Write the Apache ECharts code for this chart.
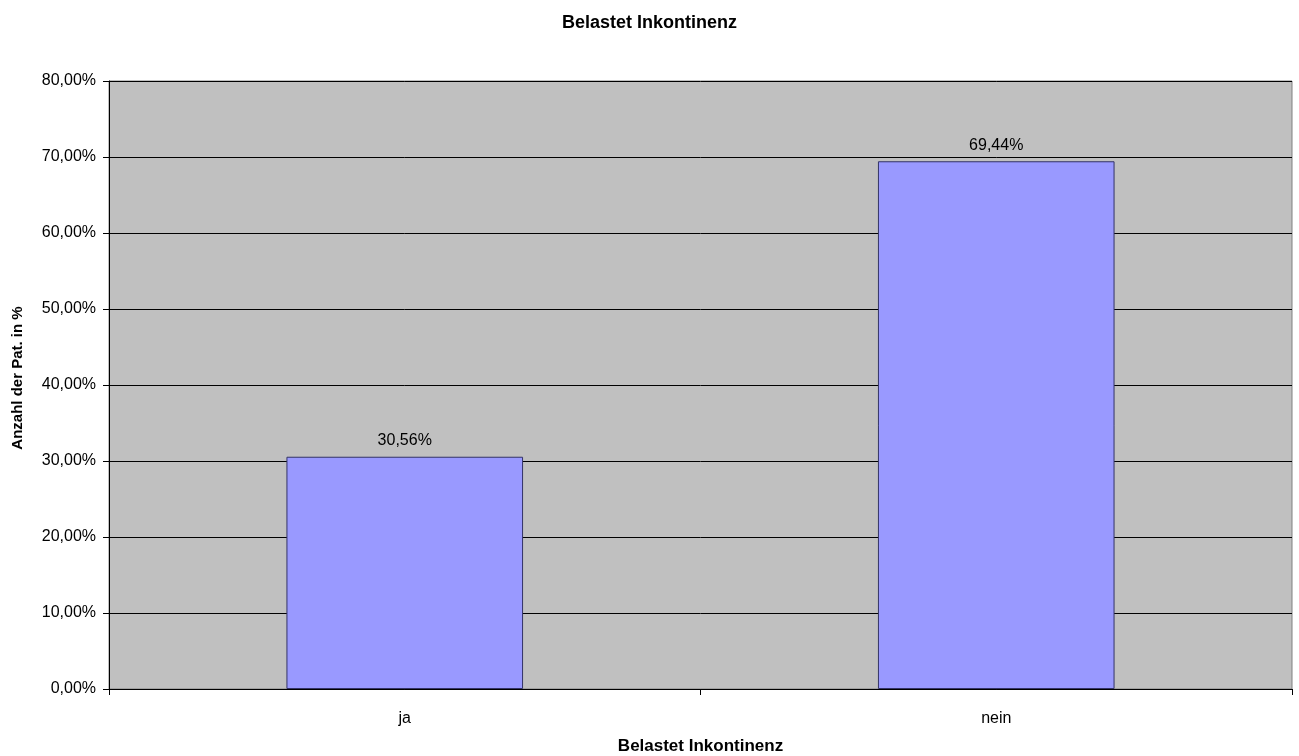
<!DOCTYPE html>
<html><head><meta charset="utf-8">
<script src="https://cdn.jsdelivr.net/npm/echarts@6/dist/echarts.min.js"></script>
<style>html,body{margin:0;padding:0;background:#fff}#c{width:1299px;height:756px}</style>
</head><body><div id="c"></div>
<script>
var categories = ['ja', 'nein'];
var values = [30.56, 69.44];
var yTicks = [0, 10, 20, 30, 40, 50, 60, 70, 80];
var titleText = 'Belastet Inkontinenz';
var xName = 'Belastet Inkontinenz';
var yName = 'Anzahl der Pat. in %';

function fmt(v){ return v.toFixed(2).replace('.', ',') + '%'; }
var FF = 'Liberation Sans, Arial, sans-serif';

var chart = echarts.init(document.getElementById('c'), null, {renderer:'canvas'});
chart.setOption({
  animation:false,
  backgroundColor:'#fff',
  title:{text:titleText,left:'center',top:9,textStyle:{fontFamily:FF,fontSize:18,fontWeight:'bold',color:'#000'}},
  grid:{left:109,right:7,top:81,bottom:67,containLabel:false,outerBoundsMode:'none',show:true,backgroundColor:'#C0C0C0',borderColor:'#808080',borderWidth:1},
  xAxis:{type:'category',data:categories,name:xName,nameLocation:'middle',nameGap:49,
    nameTextStyle:{fontFamily:FF,fontSize:17,fontWeight:'bold',color:'#000'},
    axisLine:{lineStyle:{color:'#000',width:1}},
    axisTick:{show:true,length:6,lineStyle:{color:'#000'}},
    axisLabel:{fontFamily:FF,fontSize:16,color:'#000',margin:22}},
  yAxis:{type:'value',min:yTicks[0],max:yTicks[yTicks.length-1],interval:10,name:yName,nameLocation:'middle',nameGap:84,
    nameTextStyle:{fontFamily:FF,fontSize:15,fontWeight:'bold',color:'#000',padding:[0,0,0,14]},
    axisLine:{show:true,lineStyle:{color:'#000',width:1}},
    axisTick:{show:true,length:6,lineStyle:{color:'#000'}},
    splitLine:{show:true,lineStyle:{color:'#000',width:1}},
    axisLabel:{fontFamily:FF,fontSize:16,color:'#000',margin:13,formatter:function(v){return fmt(v);}}},
  series:[{type:'bar',data:values,barWidth:'40%',
    itemStyle:{color:'#9999FF',borderColor:'#333366',borderWidth:1},
    label:{show:true,position:'top',distance:8,fontFamily:FF,fontSize:16,color:'#000',formatter:function(p){return fmt(p.value);}}}]
});
</script></body></html>
